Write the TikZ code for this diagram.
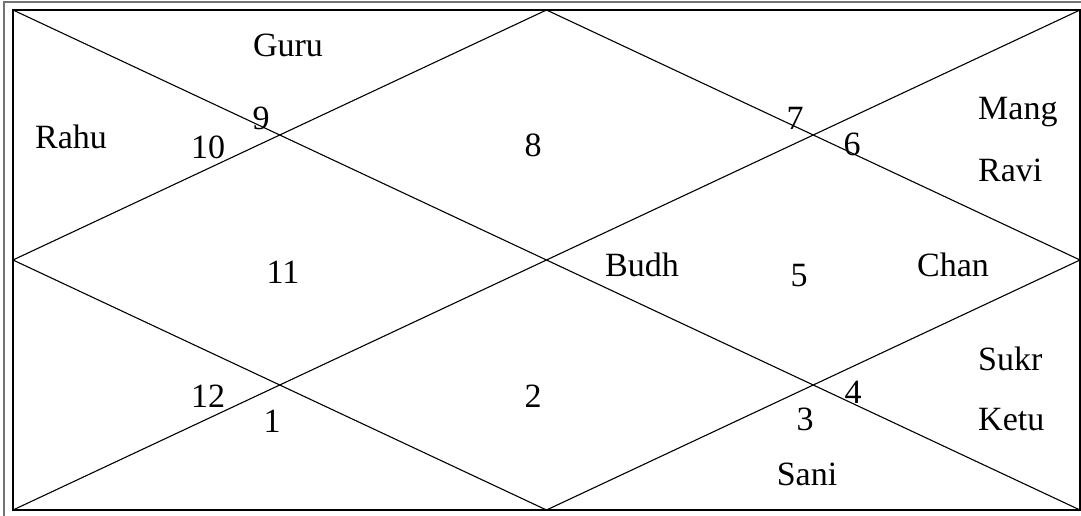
\documentclass[tikz,border=0pt]{standalone}
\usepackage{fontspec}
\setmainfont{Liberation Serif}
\begin{document}
\begin{tikzpicture}[x=1pt,y=-1pt,
  lbl/.style={anchor=base,inner sep=0pt,font=\fontsize{34}{40}\selectfont},
  lblw/.style={lbl,anchor=base west},
  chartline/.style={line width=1.1pt,black},
  frameline/.style={line width=2pt,black},
  outerline/.style={line width=1.2pt,black!55}]
\useasboundingbox (0,0) rectangle (1081,516);
% outer gray frame
\draw[outerline] (4,516) -- (4,2) -- (1081,2);
% corners and midpoints
\coordinate (tl) at (13,10);
\coordinate (tr) at (1080,10);
\coordinate (br) at (1080,510);
\coordinate (bl) at (13,510);
\coordinate (tm) at (546.5,10);
\coordinate (rm) at (1080,260);
\coordinate (bm) at (546.5,510);
\coordinate (lm) at (13,260);
\draw[frameline] (tl) rectangle (br);
\draw[chartline] (tl) -- (br);
\draw[chartline] (bl) -- (tr);
\draw[chartline] (tm) -- (rm) -- (bm) -- (lm) -- cycle;
% house numbers
\node[lbl] (n9) at (261,130) {9};
\node[lbl] (n10) at (208,158) {10};
\node[lbl] (n8) at (533,157) {8};
\node[lbl] (n7) at (795,130) {7};
\node[lbl] (n6) at (852,155) {6};
\node[lbl] (n11) at (283,283) {11};
\node[lbl] (n5) at (799,286) {5};
\node[lbl] (n12) at (208,407) {12};
\node[lbl] (n1) at (272,432) {1};
\node[lbl] (n2) at (533,407) {2};
\node[lbl] (n3) at (805,430) {3};
\node[lbl] (n4) at (853,403) {4};
% planets
\node[lbl] (guru) at (288,57) {Guru};
\node[lbl] (rahu) at (71,149) {Rahu};
\node[lblw] (mang) at (978,120) {Mang};
\node[lblw] (ravi) at (978,181) {Ravi};
\node[lbl] (budh) at (642,276) {Budh};
\node[lbl] (chan) at (953,276) {Chan};
\node[lblw] (sukr) at (978,370) {Sukr};
\node[lblw] (ketu) at (978,430) {Ketu};
\node[lbl] (sani) at (807,485) {Sani};
\end{tikzpicture}
\end{document}
